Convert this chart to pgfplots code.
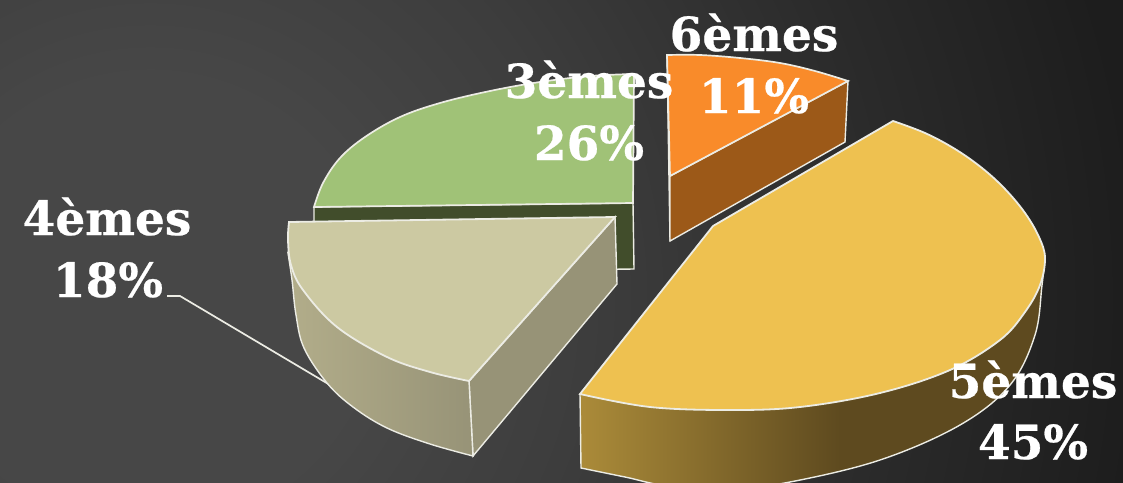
\documentclass[border=0pt]{standalone}
\usepackage{pgfplots}
\pgfplotsset{compat=1.18}
\usepackage{fontspec}
\setmainfont{DejaVu Serif}[BoldFeatures={FakeBold=0.5}]
\definecolor{edge}{HTML}{ECECE4}
\definecolor{bgA}{HTML}{474747}
\definecolor{bgB}{HTML}{3D3D3D}
\definecolor{bgD}{HTML}{2A2A2A}
\definecolor{bgC}{HTML}{1D1D1D}
\definecolor{greenT}{HTML}{A0C277}
\definecolor{greenS}{HTML}{414D2B}
\definecolor{orangeT}{HTML}{F98B2A}
\definecolor{orangeS}{HTML}{9C5918}
\definecolor{beigeT}{HTML}{CCC9A2}
\definecolor{beigeS}{HTML}{979377}
\definecolor{beigeL}{HTML}{B2AD8A}
\definecolor{yelT}{HTML}{EEC150}
\definecolor{yelL}{HTML}{AB8B39}
\definecolor{yelD}{HTML}{5E4A1F}
\pgfdeclareradialshading{bgshade}{\pgfpoint{0bp}{0bp}}{color(0bp)=(bgA); color(5bp)=(bgA); color(10bp)=(bgB); color(17bp)=(bgD); color(22.5bp)=(bgC); color(50bp)=(bgC)}
\pgfdeclarehorizontalshading{yelshade}{100bp}{color(0bp)=(yelL); color(25bp)=(yelL); color(53bp)=(yelD); color(100bp)=(yelD)}
\newcommand{\lab}[3]{\node[anchor=base,text=white,font=\fontsize{#3}{#3}\selectfont\bfseries,inner sep=0pt] at (axis cs:#1) {#2};}
\begin{document}
\begin{tikzpicture}
\useasboundingbox (0,0) rectangle (1123pt,482pt);
\begin{axis}[at={(0,0)},anchor=south west,scale only axis,width=1123pt,height=482pt,
  xmin=0,xmax=1123,ymin=0,ymax=482,y dir=reverse,hide axis,clip=true]
\begin{scope}
\clip (axis cs:0,0) rectangle (axis cs:1123,482);
\shade[shading=bgshade] (axis cs:150,300) circle (1100pt);
\end{scope}
% 3emes
\addplot[draw=edge,line width=1.4pt,fill=greenS] coordinates {(314,207)(633,203)(634,269)(314,273)} --cycle;
\addplot[smooth,tension=0.6,draw=edge,line width=1.7pt,fill=greenT] coordinates {(634,74)(590,76)(540,82)(490,91)(440,103)(400,117)(365,137)(340,158)(323,183)(314,207)} -- (axis cs:633,203) -- cycle;
% 6emes
\addplot[draw=edge,line width=1.4pt,fill=orangeS] coordinates {(667,55)(670,176)(670,241)} --cycle;
\addplot[draw=edge,line width=1.4pt,fill=orangeS] coordinates {(848,81)(845,142)(670,241)(670,176)} --cycle;
\addplot[smooth,tension=0.6,draw=edge,line width=1.7pt,fill=orangeT] coordinates {(667,55)(700,55)(740,58)(780,63)(815,71)(848,81)} -- (axis cs:670,176) -- cycle;
% 4emes
\addplot[draw=edge,line width=1.7pt] coordinates {(167,296)(180,296)(330,385)};
\addplot[draw=edge,line width=1.4pt,fill=beigeS] coordinates {(615,217)(617,284)(473,456)(469,381)} --cycle;
\addplot[smooth,tension=0.6,draw=edge,line width=1.4pt,shade,left color=beigeL,right color=beigeS] coordinates {(288,253)(292,280)(296,315)(304,348)(327,383)(353,407)(387,428)(430,444)(473,456)} -- (axis cs:469,381) -- cycle;
\addplot[smooth,tension=0.6,draw=edge,line width=1.8pt,fill=beigeT] coordinates {(469,381)(430,372)(387,357)(337,327)(303,290)(291,265)(288,240)(289,222)} -- (axis cs:615,217) -- cycle;
% 5emes
\addplot[smooth,tension=0.6,draw=edge,line width=1.4pt,shade,shading=yelshade] coordinates {(1045,258)(1042,285)(1035,335)(1010,385)(960,425)(880,460)(790,482)(740,487)(670,486)(625,477)(581,468)} -- (axis cs:580,394) -- cycle;
\addplot[smooth,tension=0.6,draw=edge,line width=1.8pt,fill=yelT] coordinates {(893,121)(925,133)(955,149)(982,168)(1005,189)(1025,213)(1039,237)(1045,258)(1040,285)(1025,312)(1000,340)(950,370)(880,393)(800,407)(730,410)(650,407)(580,394)} -- (axis cs:713,226) -- cycle;
% labels
\lab{754,51}{6èmes}{47}
\lab{754,113}{11\%}{47}
\lab{589,98}{3èmes}{47}
\lab{589,160}{26\%}{47}
\lab{107,235}{4èmes}{47}
\lab{108,297}{18\%}{47}
\lab{1033,398}{5èmes}{47}
\lab{1033,459}{45\%}{47}
\end{axis}
\end{tikzpicture}
\end{document}
